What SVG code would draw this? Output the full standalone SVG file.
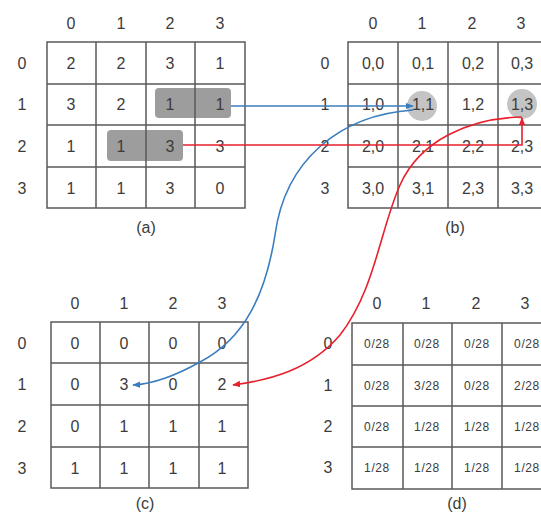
<svg xmlns="http://www.w3.org/2000/svg" width="541" height="517" viewBox="0 0 541 517">
<style>
.g{fill:none;stroke:#5a5a5a;stroke-width:1.5}
.t{font-family:"Liberation Sans","Open Sans",sans-serif;font-size:16px;fill:#3c3c3c;text-anchor:middle}
.s{font-family:"Liberation Sans","Open Sans",sans-serif;font-size:12px;letter-spacing:0.6px;fill:#3c3c3c;text-anchor:middle}
.cap{font-family:"Liberation Sans","Open Sans",sans-serif;font-size:16px;fill:#3c3c3c;text-anchor:middle}
.hl{fill:#8c8c8c;opacity:0.85}
.blue{fill:none;stroke:#3a7dbf;stroke-width:1.6}
.red{fill:none;stroke:#e8202d;stroke-width:1.6}
</style>
<defs>
<marker id="ab" viewBox="0 0 10 10" refX="9" refY="5" markerWidth="5" markerHeight="5" orient="auto"><path d="M0,1 L10,5 L0,9 z" fill="#3a7dbf"/></marker>
<marker id="ar" viewBox="0 0 10 10" refX="9" refY="5" markerWidth="5" markerHeight="5" orient="auto"><path d="M0,1 L10,5 L0,9 z" fill="#e8202d"/></marker>
</defs>
<rect width="541" height="517" fill="#ffffff"/>

<g id="grid-a">
<rect class="hl" x="155" y="88" width="76" height="30" rx="4"/>
<rect class="hl" x="107" y="130" width="76" height="31" rx="4"/>
<path class="g" d="M47,42H245V208H47Z M96,42V208 M146,42V208 M195,42V208 M47,84H245 M47,125H245 M47,167H245"/>
<g class="t">
<text x="71" y="29">0</text><text x="121" y="29">1</text><text x="170" y="29">2</text><text x="220" y="29">3</text>
<text x="22" y="69">0</text><text x="22" y="110">1</text><text x="22" y="152">2</text><text x="22" y="194">3</text>
<text x="71" y="69">2</text><text x="121" y="69">2</text><text x="170" y="69">3</text><text x="220" y="69">1</text>
<text x="71" y="110">3</text><text x="121" y="110">2</text><text x="170" y="110">1</text><text x="220" y="110">1</text>
<text x="71" y="152">1</text><text x="121" y="152">1</text><text x="170" y="152">3</text><text x="220" y="152">3</text>
<text x="71" y="194">1</text><text x="121" y="194">1</text><text x="170" y="194">3</text><text x="220" y="194">0</text>
</g>
<text class="cap" x="146" y="233">(a)</text>
</g>

<g id="grid-b">
<circle cx="422" cy="106" r="15" fill="#c4c4c4"/>
<circle cx="522" cy="104" r="15" fill="#c4c4c4"/>
<path class="g" d="M348,42H548V208H348Z M398,42V208 M448,42V208 M498,42V208 M348,84H548 M348,125H548 M348,167H548"/>
<g class="t">
<text x="373" y="29">0</text><text x="422" y="29">1</text><text x="472" y="29">2</text><text x="521" y="29">3</text>
<text x="325" y="69">0</text><text x="325" y="110">1</text><text x="325" y="152">2</text><text x="325" y="194">3</text>
<text x="373" y="69">0,0</text><text x="423" y="69">0,1</text><text x="473" y="69">0,2</text><text x="522" y="69">0,3</text>
<text x="373" y="110">1,0</text><text x="423" y="110">1,1</text><text x="473" y="110">1,2</text><text x="522" y="110">1,3</text>
<text x="373" y="152">2,0</text><text x="423" y="152">2,1</text><text x="473" y="152">2,2</text><text x="522" y="152">2,3</text>
<text x="373" y="194">3,0</text><text x="423" y="194">3,1</text><text x="473" y="194">2,3</text><text x="522" y="194">3,3</text>
</g>
<text class="cap" x="455" y="233">(b)</text>
</g>

<g id="grid-c">
<path class="g" d="M51,322H248V488H51Z M100,322V488 M149,322V488 M199,322V488 M51,363H248 M51,405H248 M51,447H248"/>
<g class="t">
<text x="75" y="309">0</text><text x="124" y="309">1</text><text x="173" y="309">2</text><text x="222" y="309">3</text>
<text x="22" y="349">0</text><text x="22" y="390">1</text><text x="22" y="432">2</text><text x="22" y="474">3</text>
<text x="75" y="349">0</text><text x="124" y="349">0</text><text x="173" y="349">0</text><text x="222" y="349">0</text>
<text x="75" y="390">0</text><text x="124" y="390">3</text><text x="173" y="390">0</text><text x="222" y="390">2</text>
<text x="75" y="432">0</text><text x="124" y="432">1</text><text x="173" y="432">1</text><text x="222" y="432">1</text>
<text x="75" y="474">1</text><text x="124" y="474">1</text><text x="173" y="474">1</text><text x="222" y="474">1</text>
</g>
<text class="cap" x="145" y="509">(c)</text>
</g>

<g id="grid-d">
<path class="g" d="M352,323H552V489H352Z M403,323V489 M452,323V489 M502,323V489 M352,365H552 M352,406H552 M352,447H552"/>
<g class="t">
<text x="377" y="309">0</text><text x="426" y="309">1</text><text x="476" y="309">2</text><text x="525" y="309">3</text>
<text x="328" y="349">0</text><text x="328" y="391">1</text><text x="328" y="432">2</text><text x="328" y="473">3</text>
</g>
<g class="s">
<text x="377" y="348">0/28</text><text x="427" y="348">0/28</text><text x="477" y="348">0/28</text><text x="527" y="348">0/28</text>
<text x="377" y="390">0/28</text><text x="427" y="390">3/28</text><text x="477" y="390">0/28</text><text x="527" y="390">2/28</text>
<text x="377" y="431">0/28</text><text x="427" y="431">1/28</text><text x="477" y="431">1/28</text><text x="527" y="431">1/28</text>
<text x="377" y="472">1/28</text><text x="427" y="472">1/28</text><text x="477" y="472">1/28</text><text x="527" y="472">1/28</text>
</g>
<text class="cap" x="457" y="509">(d)</text>
</g>

<g id="connectors">
<path class="blue" d="M231,106H413" marker-end="url(#ab)"/>
<path class="blue" d="M413,110 C340,115 285,160 275,235 C266,292 246,338 200,362 C175,376 152,384 133,385" marker-end="url(#ab)"/>
<path class="red" d="M183,145H522V118" marker-end="url(#ar)"/>
<path class="red" d="M522,117 C470,118 420,140 400,185 C380,230 375,290 340,335 C310,370 270,380 233,385" marker-end="url(#ar)"/>
</g>
</svg>
